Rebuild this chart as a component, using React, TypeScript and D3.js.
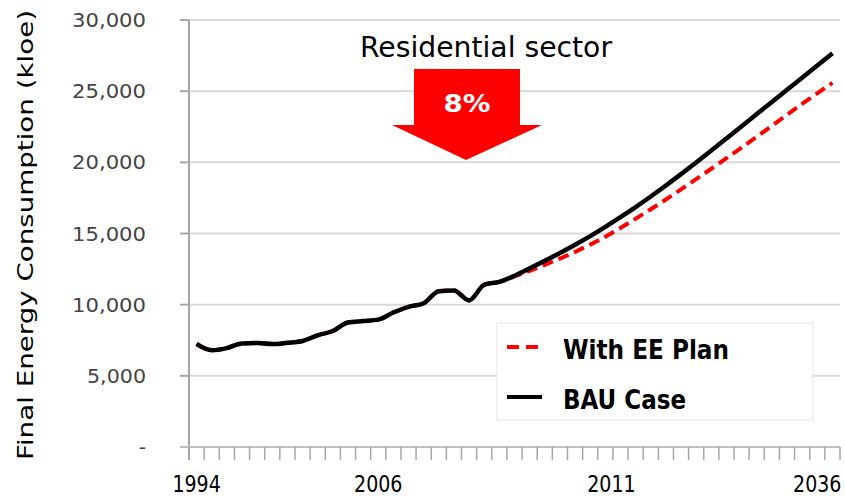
import React, { useEffect, useRef } from "react";
import * as d3 from "d3";

// values in ktoe, one per year slot (43 slots on the category axis)
const bauCase = [
  7240, 6800, 6950, 7280, 7300, 7230, 7320, 7450, 7850, 8150, 8750, 8850,
  8950, 9450, 9850, 10100, 10950, 11000, 10300, 11400, 11600, 12030, 12550,
  13080, 13630, 14210, 14820, 15470, 16150, 16860, 17600, 18370, 19170,
  19990, 20830, 21680, 22535, 23390, 24245, 25100, 25950, 26800, 27660,
];
const withEEPlan = [
  7240, 6800, 6950, 7280, 7300, 7230, 7320, 7450, 7850, 8150, 8750, 8850,
  8950, 9450, 9850, 10100, 10950, 11000, 10300, 11400, 11600, 11980, 12380,
  12800, 13240, 13710, 14220, 14780, 15390, 16040, 16700, 17390, 18100,
  18820, 19550, 20290, 21040, 21800, 22570, 23340, 24100, 24850, 25580,
];
const yTicks = [0, 5000, 10000, 15000, 20000, 25000, 30000];
const xTickLabels = ["1994", "2006", "2011", "2036"];
const xTickSlots = [0, 12, 27.4, 41];
const reduction = "8%";

export default function App() {
  const ref = useRef<SVGSVGElement>(null);

  useEffect(() => {
    const svg = d3.select(ref.current);
    svg.selectAll("*").remove();

    const left = 189, right = 840, top = 20, bottom = 447;
    const n = bauCase.length;
    const x = d3.scaleLinear().domain([0, n]).range([left, right]);
    const y = d3.scaleLinear().domain([0, 30000]).range([bottom, top]);
    const font = "DejaVu Sans, Verdana, sans-serif";

    // gridlines
    svg.append("g")
      .selectAll("line")
      .data(yTicks.filter((d) => d > 0))
      .enter()
      .append("line")
      .attr("x1", left)
      .attr("x2", right)
      .attr("y1", (d) => y(d))
      .attr("y2", (d) => y(d))
      .attr("stroke", "#d9d9d9")
      .attr("stroke-width", 2);

    // y axis
    svg.append("line")
      .attr("x1", left).attr("x2", left)
      .attr("y1", top).attr("y2", bottom + 13)
      .attr("stroke", "#a6a6a6").attr("stroke-width", 2);
    svg.append("g")
      .selectAll("line")
      .data(yTicks)
      .enter()
      .append("line")
      .attr("x1", left - 9).attr("x2", left)
      .attr("y1", (d) => y(d)).attr("y2", (d) => y(d))
      .attr("stroke", "#a6a6a6").attr("stroke-width", 2);
    svg.append("g")
      .selectAll("text")
      .data(yTicks)
      .enter()
      .append("text")
      .attr("x", 146)
      .attr("y", (d) => y(d) + 7)
      .attr("text-anchor", "end")
      .attr("font-family", font)
      .attr("font-size", 20)
      .attr("fill", "#444")
      .attr("textLength", (d) => (d === 0 ? null : d >= 10000 ? 74 : 59))
      .attr("lengthAdjust", "spacingAndGlyphs")
      .text((d) => (d === 0 ? "-" : d3.format(",")(d)));

    svg.append("text")
      .attr("transform", "translate(33,235) rotate(-90)")
      .attr("text-anchor", "middle")
      .attr("font-family", font)
      .attr("font-size", 22)
      .attr("fill", "#000")
      .attr("textLength", 450)
      .attr("lengthAdjust", "spacingAndGlyphs")
      .text("Final  Energy Consumption (kloe)");

    // x axis
    svg.append("line")
      .attr("x1", left - 9).attr("x2", right)
      .attr("y1", bottom).attr("y2", bottom)
      .attr("stroke", "#bfbfbf").attr("stroke-width", 2);
    svg.append("g")
      .selectAll("line")
      .data(d3.range(n + 1))
      .enter()
      .append("line")
      .attr("x1", (d) => x(d)).attr("x2", (d) => x(d))
      .attr("y1", bottom).attr("y2", bottom + 13)
      .attr("stroke", "#a6a6a6").attr("stroke-width", 1.5);
    svg.append("g")
      .selectAll("text")
      .data(xTickLabels)
      .enter()
      .append("text")
      .attr("transform", (d, i) => `translate(${x(xTickSlots[i] + 0.5)},492) scale(1,1.25)`)
      .attr("text-anchor", "middle")
      .attr("font-family", font)
      .attr("font-size", 19)
      .attr("fill", "#000")
      .text((d) => d);

    // series
    const line = d3.line<number>()
      .x((d, i) => x(i + 0.5))
      .y((d) => y(d))
      .curve(d3.curveMonotoneX);
    svg.append("path")
      .datum(withEEPlan)
      .attr("d", line)
      .attr("fill", "none")
      .attr("stroke", "#ff0000")
      .attr("stroke-width", 4)
      .attr("stroke-dasharray", "11,6");
    svg.append("path")
      .datum(bauCase)
      .attr("d", line)
      .attr("fill", "none")
      .attr("stroke", "#000")
      .attr("stroke-width", 4.5)
      .attr("stroke-linejoin", "round");

    // title and arrow
    svg.append("text")
      .attr("x", 486).attr("y", 57)
      .attr("text-anchor", "middle")
      .attr("font-family", font)
      .attr("font-size", 28)
      .attr("fill", "#000")
      .attr("textLength", 252)
      .attr("lengthAdjust", "spacingAndGlyphs")
      .text("Residential sector");
    const arrow = d3.path();
    arrow.moveTo(414, 69);
    arrow.lineTo(520, 69);
    arrow.lineTo(520, 125);
    arrow.lineTo(542, 125);
    arrow.lineTo(466, 160);
    arrow.lineTo(392, 125);
    arrow.lineTo(414, 125);
    arrow.closePath();
    svg.append("path").attr("d", arrow.toString()).attr("fill", "#ff0000");
    svg.append("text")
      .attr("x", 467).attr("y", 112)
      .attr("text-anchor", "middle")
      .attr("font-family", font)
      .attr("font-weight", "bold")
      .attr("font-size", 24)
      .attr("fill", "#fff")
      .attr("textLength", 47)
      .attr("lengthAdjust", "spacingAndGlyphs")
      .text(reduction);

    // legend
    const legend = svg.append("g");
    legend.append("rect")
      .attr("x", 497).attr("y", 323)
      .attr("width", 316).attr("height", 97)
      .attr("fill", "#fff")
      .attr("stroke", "#e3e3e3").attr("stroke-width", 1);
    const items = [
      { label: "With EE Plan", color: "#ff0000", dash: "12,7", len: 166, y: 347 },
      { label: "BAU Case", color: "#000", dash: null, len: 123, y: 397 },
    ];
    items.forEach((d) => {
      legend.append("line")
        .attr("x1", 507).attr("x2", d.dash ? 539 : 542)
        .attr("y1", d.y).attr("y2", d.y)
        .attr("stroke", d.color)
        .attr("stroke-width", 4)
        .attr("stroke-dasharray", d.dash);
      legend.append("text")
        .attr("x", 563).attr("y", d.y + 12)
        .attr("font-family", font)
        .attr("font-weight", "bold")
        .attr("font-size", 27)
        .attr("fill", "#000")
        .attr("textLength", d.len)
        .attr("lengthAdjust", "spacingAndGlyphs")
        .text(d.label);
    });
  }, []);

  return (
    <svg
      ref={ref}
      width={845}
      height={500}
      style={{ position: "absolute", left: 0, top: 0, background: "#fff" }}
    />
  );
}
